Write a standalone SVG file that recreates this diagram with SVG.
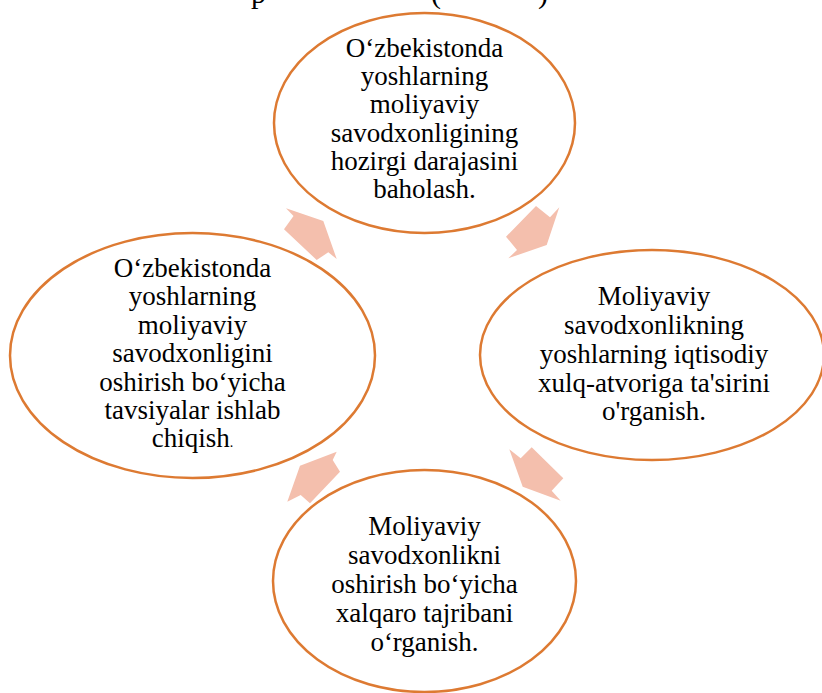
<svg xmlns="http://www.w3.org/2000/svg" width="822" height="693" viewBox="0 0 822 693">
<style>
.ell{fill:#FFFFFF;stroke:#DD7A32;stroke-width:2.5}
.arr{fill:#F4BFAD;stroke:none}
text{font-family:"Liberation Serif","Times New Roman",serif;font-size:27px;fill:#000;text-anchor:middle}
.title{font-size:30px;text-anchor:start}
</style>
<rect width="822" height="693" fill="#FFFFFF"/>
<g id="title">
<text class="title" x="251" y="3">p</text>
<text class="title" x="431" y="3">(</text>
<text class="title" x="538" y="3">)</text>
</g>
<g id="connectors">
<polygon class="arr" points="286,208.3 323.3,221 336.7,259 328.3,252.3 316.7,260 284,229.3 293.5,216"/>
<polygon class="arr" points="536,206 550,217.3 559.3,207.3 546.7,245 508.3,258.3 517,250 506,236.7"/>
<polygon class="arr" points="509.3,449.3 520.7,458.3 531.7,447.3 563.3,478.3 551.7,490.7 560.7,500.7 522.7,486.7"/>
<polygon class="arr" points="287.3,501.7 300,465.7 336.7,451.7 332.7,460 340,471.7 310,503.3 300.7,495"/>
</g>
<g id="node-top">
<ellipse class="ell" cx="424.5" cy="123" rx="150.5" ry="110"/>
<text x="424.5" y="57">O‘zbekistonda</text>
<text x="424.5" y="85">yoshlarning</text>
<text x="424.5" y="113">moliyaviy</text>
<text x="424.5" y="142">savodxonligining</text>
<text x="424.5" y="170">hozirgi darajasini</text>
<text x="424.5" y="198">baholash.</text>
</g>
<g id="node-right">
<ellipse class="ell" cx="652" cy="355" rx="172" ry="105"/>
<text x="654" y="305">Moliyaviy</text>
<text x="654" y="334">savodxonlikning</text>
<text x="654" y="363">yoshlarning iqtisodiy</text>
<text x="654" y="392">xulq-atvoriga ta'sirini</text>
<text x="654" y="420">o'rganish.</text>
</g>
<g id="node-bottom">
<ellipse class="ell" cx="424.5" cy="581" rx="151.5" ry="111"/>
<text x="424.5" y="535">Moliyaviy</text>
<text x="424.5" y="564">savodxonlikni</text>
<text x="424.5" y="593">oshirish bo‘yicha</text>
<text x="424.5" y="622">xalqaro tajribani</text>
<text x="424.5" y="651">o‘rganish.</text>
</g>
<g id="node-left">
<ellipse class="ell" cx="192.5" cy="355.5" rx="182.5" ry="122.5"/>
<text x="192.5" y="277">O‘zbekistonda</text>
<text x="192.5" y="305">yoshlarning</text>
<text x="192.5" y="334">moliyaviy</text>
<text x="192.5" y="362">savodxonligini</text>
<text x="192.5" y="391">oshirish bo‘yicha</text>
<text x="192.5" y="419">tavsiyalar ishlab</text>
<text x="192.5" y="447">chiqish<tspan font-size="14">.</tspan></text>
</g>
</svg>
